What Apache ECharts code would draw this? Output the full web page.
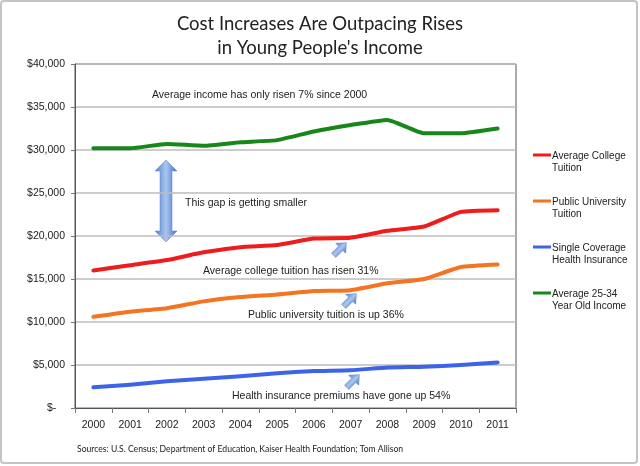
<!DOCTYPE html>
<html><head><meta charset="utf-8">
<script src="https://cdn.jsdelivr.net/npm/echarts@6/dist/echarts.min.js"></script>
<style>html,body{margin:0;padding:0;background:#fff}#c{width:640px;height:466px}</style>
</head><body><div id="c"></div>
<script>
const years = ['2000','2001','2002','2003','2004','2005','2006','2007','2008','2009','2010','2011'];
const collegeTuition = [16000,16600,17200,18100,18700,18950,19700,19800,20600,21100,22800,23000];
const publicTuition = [10600,11200,11600,12400,12900,13200,13600,13700,14500,15000,16400,16700];
const healthInsurance = [2400,2700,3100,3400,3700,4050,4300,4400,4700,4800,5000,5300];
const youngIncome = [30200,30200,30700,30500,30900,31150,32150,32900,33500,31950,31950,32500];
const seriesNames = ['Average College Tuition','Public University Tuition','Single Coverage Health Insurance','Average 25-34 Year Old Income'];
const legendLabels = ['Average College\nTuition','Public University\nTuition','Single Coverage\nHealth Insurance','Average 25-34\nYear Old Income'];
const colors = ['#ee1c1c','#f47421','#3d63e8','#17871a'];
const titleText = "Cost Increases Are Outpacing Rises\nin Young People's Income";
const sourceText = 'Sources: U.S. Census; Department of Education, Kaiser Health Foundation; Tom Allison';

const chart = echarts.init(document.getElementById('c'), null, {renderer:'canvas'});
const dataSets = [collegeTuition, publicTuition, healthInsurance, youngIncome];

const blueGrad = (horizontal) => new echarts.graphic.LinearGradient(0,0,horizontal?1:0,horizontal?0:1,[
  {offset:0,color:'#4f7fcf'},{offset:0.5,color:'#a9c6ef'},{offset:1,color:'#3f6fc0'}]);

function smallArrow(x,y){
  return {type:'polygon', x:x, y:y, rotation:Math.PI/4,
    shape:{points:[[-9,-3],[1,-3],[1,-7],[9,0],[1,7],[1,3],[-9,3]]},
    style:{fill:blueGrad(false), stroke:'#5b84c8', lineWidth:0.5}};
}
function label(x,y,text,size){
  return {type:'text', x:x, y:y, style:{text:text, fill:'#222', font:(size||10.5)+'px "Liberation Sans", Arial, sans-serif', textVerticalAlign:'middle'}};
}

chart.setOption({
  animation:false,
  backgroundColor:'#fff',
  color:colors,
  title:{text:titleText, left:'center', top:7,
    textStyle:{fontFamily:'Lato, "Open Sans", sans-serif', fontSize:18.5, fontWeight:'normal', color:'#222', lineHeight:24}},
  grid:{left:75, top:64, right:124, bottom:58, show:true, borderColor:'#555', borderWidth:1, containLabel:false},
  legend:{orient:'vertical', left:533, top:150, itemGap:22, itemWidth:18, itemHeight:17, padding:0,
    icon:'path://M0,0L18,0L18,3L0,3Z M0,17L0.001,17',
    data:seriesNames,
    formatter:(n)=>legendLabels[seriesNames.indexOf(n)],
    textStyle:{fontFamily:'"Liberation Sans", Arial, sans-serif', fontSize:10, color:'#222', lineHeight:12, padding:[0,0,0,-4]}},
  xAxis:{type:'category', data:years, boundaryGap:true,
    axisLine:{lineStyle:{color:'#555'}},
    axisTick:{show:true, length:5, lineStyle:{color:'#777'}},
    axisLabel:{fontFamily:'"Liberation Sans", Arial, sans-serif', fontSize:10.5, color:'#222', margin:12}},
  yAxis:{type:'value', min:0, max:40000, interval:5000,
    axisLine:{show:true, lineStyle:{color:'#555'}},
    axisTick:{show:true, length:4, lineStyle:{color:'#777'}},
    splitLine:{lineStyle:{color:'#bdbdbd', width:1.5}},
    axisLabel:{fontFamily:'"Liberation Sans", Arial, sans-serif', fontSize:10.5, color:'#222', margin:10,
      formatter:(v)=> v===0 ? '$-   ' : '$'+v.toLocaleString('en-US')}},
  series: seriesNames.map((n,i)=>({name:n, type:'line', data:dataSets[i], symbol:'none', smooth:0.15,
    lineStyle:{width:4, color:colors[i], join:'round', cap:'round'}, itemStyle:{color:colors[i]}})),
  graphic:[
    {type:'rect', shape:{x:1, y:1, width:636, height:462, r:3}, style:{fill:null, stroke:'#c4c4c4', lineWidth:2}, silent:true},
    label(152,95,'Average income has only risen 7% since 2000'),
    label(185,203,'This gap is getting smaller'),
    label(203,271,'Average college tuition has risen 31%'),
    label(248,315,'Public university tuition is up 36%'),
    label(232,396,'Health insurance premiums have gone up 54%',10.5),
    {type:'text', x:77, y:449, style:{text:sourceText, fill:'#222', font:'8.6px Lato, "Open Sans", sans-serif', textVerticalAlign:'middle'}},
    {type:'polygon', shape:{points:[[166,160],[177,171],[172,171],[172,231],[177,231],[166,242],[155,231],[160,231],[160,171],[155,171]]},
      style:{fill:blueGrad(true), stroke:'#5b84c8', lineWidth:0.5}},
    smallArrow(340,249),
    smallArrow(350,300),
    smallArrow(353,381)
  ]
});
</script></body></html>
